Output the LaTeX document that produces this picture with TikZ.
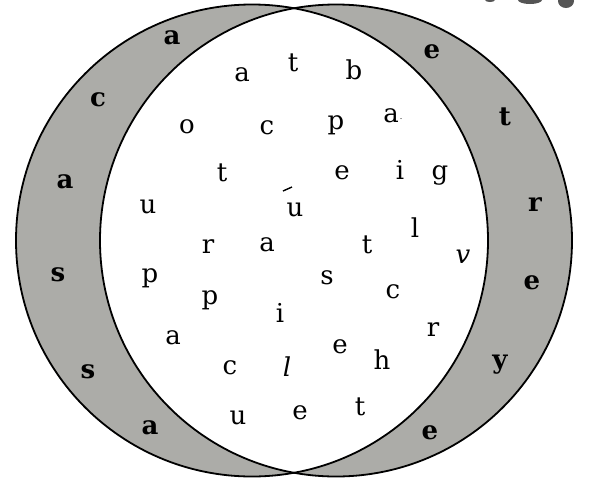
\documentclass[tikz,border=0pt]{standalone}
\usepackage{fontspec}
\setmainfont{DejaVu Serif}
\definecolor{crescent}{RGB}{172,172,168}
\definecolor{blob}{RGB}{85,85,85}
\begin{document}
\begin{tikzpicture}[x=1pt,y=-1pt,
  letter/.style={inner sep=0pt,font=\fontsize{26}{26}\selectfont},
  outer/.style={letter,font=\fontsize{26}{26}\selectfont\bfseries},
  ring/.style={draw=black,line width=1.8pt}]
\useasboundingbox (0,0) rectangle (590,483);
\fill[white] (0,0) rectangle (590,483);
% crescents
\fill[crescent] (252,240.5) circle (236);
\fill[crescent] (336,240.5) circle (236);
\begin{scope}
  \clip (252,240.5) circle (236);
  \fill[white] (336,240.5) circle (236);
\end{scope}
\draw[ring] (252,240.5) circle (236);
\draw[ring] (336,240.5) circle (236);
% cut-off marks at top right
\fill[blob] (490,0) ellipse (5 and 2);
\fill[blob] (530,0) ellipse (12 and 4);
\fill[blob] (566,1) ellipse (8 and 7);
% left crescent letters
\node[outer] (L1) at (172,38) {a};
\node[outer] (L2) at (98,100) {c};
\node[outer] (L3) at (65,182) {a};
\node[outer] (L4) at (58,275) {s};
\node[outer] (L5) at (88,372) {s};
\node[outer] (L6) at (150,428) {a};
% right crescent letters
\node[outer] (R1) at (432,52) {e};
\node[outer] (R2) at (505,117) {t};
\node[outer] (R3) at (535,205) {r};
\node[outer] (R4) at (532,283) {e};
\node[outer] (R5) at (500,365) {y};
\node[outer] (R6) at (430,433) {e};
% middle letters
\node[letter] (m1) at (242,75) {a};
\node[letter] (m2) at (293,63) {t};
\node[letter] (m3) at (354,70) {b};
\node[letter] (m4) at (187,127) {o};
\node[letter] (m5) at (267,128) {c};
\node[letter] (m6) at (336,125) {p};
\node[letter] (m7) at (393,116) {a\kern1pt\raisebox{3pt}{\fontsize{8}{8}\selectfont.}};
\node[letter] (m8) at (222,173) {t};
\node[letter] (m9) at (342,173) {e};
\node[letter] (m10) at (400,170) {i};
\node[letter] (m11) at (440,175) {g};
\node[letter] (m12) at (148,207) {u};
\node[letter] (m13) at (295,210) {u};
\coordinate (acA) at (283,191);
\coordinate (acB) at (292,187);
\draw[line width=1.4pt] (acA) -- (acB);
\node[letter] (m15) at (208,247) {r};
\node[letter] (m16) at (267,245) {a};
\node[letter] (m17) at (367,245) {t};
\node[letter] (m18) at (415,228) {l};
\node[letter] (m19) at (463,257) {\itshape v};
\node[letter] (m20) at (150,278) {p};
\node[letter] (m21) at (327,278) {s};
\node[letter] (m22) at (393,292) {c};
\node[letter] (m23) at (210,300) {p};
\node[letter] (m24) at (280,313) {i};
\node[letter] (m25) at (173,338) {a};
\node[letter] (m26) at (340,347) {e};
\node[letter] (m27) at (433,330) {r};
\node[letter] (m28) at (382,360) {h};
\node[letter] (m29) at (230,368) {c};
\node[letter] (m30) at (287,367) {\itshape l};
\node[letter] (m31) at (238,418) {u};
\node[letter] (m32) at (300,413) {e};
\node[letter] (m33) at (360,407) {t};
\end{tikzpicture}
\end{document}
